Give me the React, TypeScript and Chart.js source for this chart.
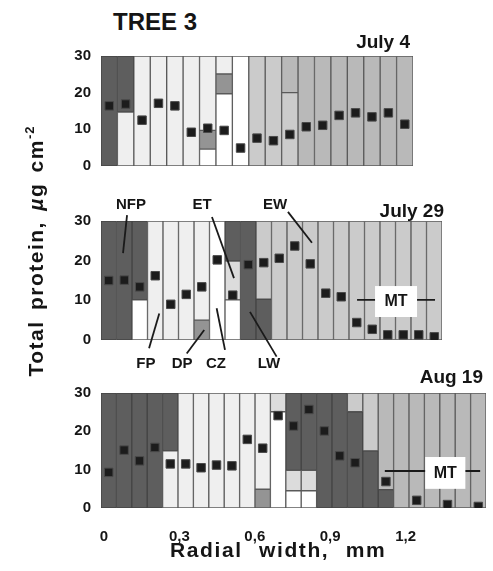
import React, { useEffect, useRef } from 'react';
import { Chart, registerables } from 'chart.js';

Chart.register(...registerables);

const FONT = '"Liberation Sans", Arial, Helvetica, sans-serif';
const INK = '#151515';

type Seg = [string, number]; // [tissue, upper boundary of the segment]

// ---------- styling of tissues ----------
const TISSUE_COLOR: Record<string, string> = {
  NFP: '#5e5e5e',
  LW: '#5e5e5e',
  FP: '#efefef',
  DP: '#949494',
  CZ: '#ffffff',
  ET: '#dcdcdc',
  EW: '#cbcbcb',
  MT: '#b9b9b9',
};
const DARK_TISSUES = ['NFP', 'LW'];

// ---------- axes ----------
const Y_MIN = 0;
const Y_MAX = 30;
const Y_STEP = 10;
const X_TICK_VALUES = [0, 0.3, 0.6, 0.9, 1.2];
const X_TICK_LABELS = ['0', '0,3', '0,6', '0,9', '1,2'];
const X_MIN_MM = -0.012;
const X_MAX_MM = 1.52;

// ---------- July 4 ----------
const JUL4_BARS: Seg[][] = [
  [['NFP', 30]],
  [['FP', 14.7], ['NFP', 30]],
  [['FP', 30]],
  [['FP', 30]],
  [['FP', 30]],
  [['FP', 30]],
  [['CZ', 4.6], ['DP', 9.7], ['FP', 30]],
  [['CZ', 19.7], ['DP', 25.1], ['FP', 30]],
  [['CZ', 30]],
  [['EW', 30]],
  [['EW', 30]],
  [['EW', 20], ['MT', 30]],
  [['MT', 30]],
  [['MT', 30]],
  [['MT', 30]],
  [['MT', 30]],
  [['MT', 30]],
  [['MT', 30]],
  [['MT', 30]],
];
const JUL4_PROTEIN = [16.4, 16.9, 12.5, 17.1, 16.4, 9.2, 10.3, 9.7, 4.9, 7.6, 6.9, 8.6, 10.7, 11.1, 13.8, 14.5, 13.4, 14.5, 11.4];

// ---------- July 29 ----------
const JUL29_BARS: Seg[][] = [
  [['NFP', 30]],
  [['NFP', 30]],
  [['CZ', 10.1], ['NFP', 30]],
  [['FP', 30]],
  [['FP', 30]],
  [['FP', 30]],
  [['DP', 5], ['FP', 30]],
  [['CZ', 30]],
  [['CZ', 10.1], ['ET', 19.9], ['LW', 30]],
  [['LW', 30]],
  [['LW', 10.3], ['EW', 30]],
  [['EW', 30]],
  [['EW', 30]],
  [['EW', 30]],
  [['EW', 30]],
  [['EW', 30]],
  [['EW', 30]],
  [['EW', 30]],
  [['EW', 30]],
  [['EW', 30]],
  [['EW', 30]],
  [['EW', 30]],
];
const JUL29_PROTEIN = [15.0, 15.1, 13.4, 16.2, 9.0, 11.5, 13.4, 20.2, 11.3, 19.0, 19.5, 20.6, 23.7, 19.2, 11.8, 10.9, 4.4, 2.7, 1.3, 1.3, 1.3, 0.8];

// ---------- Aug 19 ----------
const AUG19_BARS: Seg[][] = [
  [['NFP', 30]],
  [['NFP', 30]],
  [['NFP', 30]],
  [['NFP', 30]],
  [['FP', 14.9], ['NFP', 30]],
  [['FP', 30]],
  [['FP', 30]],
  [['FP', 30]],
  [['FP', 30]],
  [['FP', 30]],
  [['DP', 4.9], ['FP', 30]],
  [['CZ', 25.1], ['ET', 30]],
  [['CZ', 4.5], ['ET', 9.8], ['LW', 30]],
  [['CZ', 4.5], ['ET', 9.8], ['LW', 30]],
  [['LW', 30]],
  [['LW', 30]],
  [['LW', 25.1], ['EW', 30]],
  [['LW', 14.9], ['EW', 30]],
  [['LW', 4.8], ['MT', 30]],
  [['MT', 30]],
  [['MT', 30]],
  [['MT', 30]],
  [['MT', 30]],
  [['MT', 30]],
  [['MT', 30]],
];
const AUG19_PROTEIN = [9.3, 15.1, 12.3, 15.8, 11.5, 11.5, 10.5, 11.2, 11.0, 17.9, 15.6, 24.1, 21.4, 25.7, 20.1, 13.6, 11.8, null, 6.9, null, 2.0, null, 0.9, null, 0.4];

// ---------- annotations (bar index, protein value) ----------
interface Ann { text: string; at: [number, number]; line: [[number, number], [number, number]]; }
interface MtBox { line: [number, number, number]; box: [number, number, number, number]; text: [number, number]; }

const JUL29_LABELS: Ann[] = [
  { text: 'NFP', at: [1.43, 34], line: [[1.18, 31.5], [0.92, 21.9]] },
  { text: 'ET', at: [6.02, 34], line: [[6.66, 31.0], [8.08, 15.6]] },
  { text: 'EW', at: [10.73, 34], line: [[11.56, 32.3], [13.11, 24.5]] },
  { text: 'FP', at: [2.4, -6.05], line: [[3.26, 6.7], [2.6, -2.1]] },
  { text: 'DP', at: [4.73, -6.05], line: [[6.16, 2.5], [5.03, -3.4]] },
  { text: 'CZ', at: [6.92, -6.05], line: [[6.96, 8.0], [7.5, -2.5]] },
  { text: 'LW', at: [10.34, -6.05], line: [[9.11, 7.1], [10.83, -4.2]] },
];
const JUL29_MT: MtBox = { line: [16.02, 21.05, 10.1], box: [17.18, 19.89, 13.6, 5.8], text: [18.53, 9.6] };
const AUG19_MT: MtBox = { line: [17.93, 24.12, 9.65], box: [20.55, 23.16, 13.3, 5.0], text: [21.85, 9.1] };

interface PanelCfg {
  date: string;
  bars: Seg[][];
  protein: (number | null)[];
  top: number;
  height: number;
  padTop: number;
  padBottom: number;
  padRight: number;
  dateDx: number;
  dateDy: number;
  labels?: Ann[];
  mt?: MtBox;
  xAxis?: boolean;
}

const PANELS: PanelCfg[] = [
  { date: 'July 4', bars: JUL4_BARS, protein: JUL4_PROTEIN, top: 0, height: 185, padTop: 56, padBottom: 14, padRight: 80, dateDx: -3, dateDy: 8 },
  { date: 'July 29', bars: JUL29_BARS, protein: JUL29_PROTEIN, top: 185, height: 190, padTop: 36, padBottom: 35, padRight: 51, dateDx: 2, dateDy: 4, labels: JUL29_LABELS, mt: JUL29_MT },
  { date: 'Aug 19', bars: AUG19_BARS, protein: AUG19_PROTEIN, top: 355, height: 216, padTop: 38, padBottom: 0, padRight: 0, dateDx: -3, dateDy: 10, mt: AUG19_MT, xAxis: true },
];

function Panel({ cfg }: { cfg: PanelCfg }) {
  const ref = useRef<HTMLCanvasElement>(null);

  useEffect(() => {
    if (!ref.current) return;
    const bars = cfg.bars;
    const nLayers = Math.max(...bars.map((b) => b.length));
    const labels = bars.map((_, i) => String(i + 1));

    const datasets: any[] = [
      {
        type: 'line',
        label: 'Total protein',
        data: cfg.protein,
        showLine: false,
        stack: 'markers',
        order: 0,
        pointStyle: 'rect',
        pointRadius: 6,
        pointHoverRadius: 6,
        pointBackgroundColor: '#1c1c1c',
        pointBorderColor: '#4a4a4a',
        pointBorderWidth: 1,
      },
    ];
    for (let k = 0; k < nLayers; k++) {
      datasets.push({
        type: 'bar',
        label: 'layer ' + k,
        stack: 'tissue',
        order: 1,
        data: bars.map((b) => (b[k] ? b[k][1] - (k > 0 ? b[k - 1][1] : 0) : null)),
        backgroundColor: bars.map((b) => (b[k] ? TISSUE_COLOR[b[k][0]] : 'transparent')),
        borderColor: bars.map((b) => (b[k] && DARK_TISSUES.includes(b[k][0]) ? '#444444' : '#5a5a5a')),
        borderWidth: 1,
        borderSkipped: false,
        categoryPercentage: 1,
        barPercentage: 1,
      });
    }

    const overlay = {
      id: 'overlay',
      afterDatasetsDraw(chart: any) {
        const { ctx, chartArea, scales } = chart;
        const px = (i: number) => scales.x.getPixelForValue(i);
        const py = (v: number) => scales.y.getPixelForValue(v);
        ctx.save();
        ctx.fillStyle = INK;
        ctx.font = `bold 19px ${FONT}`;
        ctx.textAlign = 'right';
        ctx.textBaseline = 'alphabetic';
        ctx.fillText(cfg.date, chartArea.right + cfg.dateDx, chartArea.top - cfg.dateDy);

        ctx.strokeStyle = '#1a1a1a';
        ctx.lineWidth = 1.8;
        ctx.lineCap = 'butt';
        (cfg.labels || []).forEach((a) => {
          ctx.beginPath();
          ctx.moveTo(px(a.line[0][0]), py(a.line[0][1]));
          ctx.lineTo(px(a.line[1][0]), py(a.line[1][1]));
          ctx.stroke();
          ctx.font = `bold 15px ${FONT}`;
          ctx.textAlign = 'center';
          ctx.textBaseline = 'middle';
          ctx.fillText(a.text, px(a.at[0]), py(a.at[1]));
        });

        if (cfg.mt) {
          const m = cfg.mt;
          ctx.beginPath();
          ctx.moveTo(px(m.line[0]), py(m.line[2]));
          ctx.lineTo(px(m.line[1]), py(m.line[2]));
          ctx.stroke();
          const x0 = px(m.box[0]);
          const x1 = px(m.box[1]);
          const y0 = py(m.box[2]);
          const y1 = py(m.box[3]);
          ctx.fillStyle = '#ffffff';
          ctx.fillRect(x0, y0, x1 - x0, y1 - y0);
          ctx.fillStyle = INK;
          ctx.font = `bold 16px ${FONT}`;
          ctx.textAlign = 'center';
          ctx.textBaseline = 'middle';
          ctx.fillText('MT', px(m.text[0]), py(m.text[1]));
        }
        ctx.restore();
      },
    };

    const scales: any = {
      x: { type: 'category', stacked: true, display: false },
      y: {
        min: Y_MIN,
        max: Y_MAX,
        stacked: true,
        afterFit: (s: any) => {
          s.width = 101;
        },
        grid: { display: false, drawTicks: false },
        border: { display: false },
        ticks: { stepSize: Y_STEP, padding: 10, color: INK, font: { family: FONT, size: 15, weight: 'bold' } },
      },
    };
    if (cfg.xAxis) {
      scales.mm = {
        type: 'linear',
        axis: 'x',
        position: 'bottom',
        offset: false,
        min: X_MIN_MM,
        max: X_MAX_MM,
        afterBuildTicks: (s: any) => {
          s.ticks = X_TICK_VALUES.map((v) => ({ value: v }));
        },
        afterFit: (s: any) => {
          s.height = 63;
        },
        grid: { display: false, drawTicks: false, offset: false },
        border: { display: false },
        ticks: {
          autoSkip: false,
          maxRotation: 0,
          padding: 20,
          color: INK,
          font: { family: FONT, size: 15, weight: 'bold' },
          callback: (_v: any, i: number) => X_TICK_LABELS[i],
        },
      };
    }

    const chart = new Chart(ref.current, {
      type: 'bar',
      data: { labels, datasets },
      options: {
        animation: false,
        responsive: true,
        maintainAspectRatio: false,
        events: [],
        layout: { padding: { top: cfg.padTop, bottom: cfg.padBottom, right: cfg.padRight, left: 0 } },
        plugins: { legend: { display: false }, tooltip: { enabled: false } },
        scales,
      },
      plugins: [overlay],
    } as any);
    return () => chart.destroy();
  }, [cfg]);

  return (
    <div style={{ position: 'absolute', left: 0, top: cfg.top, width: 493, height: cfg.height }}>
      <canvas ref={ref} />
    </div>
  );
}

export default function App() {
  return (
    <div style={{ position: 'absolute', left: 0, top: 0, width: 493, height: 571, background: '#fff', overflow: 'hidden', fontFamily: FONT, color: INK }}>
      <div style={{ position: 'absolute', left: 113, top: 10, fontSize: 24, lineHeight: '24px', fontWeight: 'bold', whiteSpace: 'nowrap' }}>TREE 3</div>
      {PANELS.map((p, i) => (
        <Panel key={i} cfg={p} />
      ))}
      <div
        style={{
          position: 'absolute',
          left: 36 - 200,
          top: 251 - 12,
          width: 400,
          height: 24,
          lineHeight: '24px',
          textAlign: 'center',
          transform: 'rotate(-90deg)',
          fontSize: 21,
          fontWeight: 'bold',
          letterSpacing: '1.5px',
          wordSpacing: '3px',
          whiteSpace: 'nowrap',
        }}
      >
        Total protein, <span style={{ fontStyle: 'italic' }}>µ</span>g cm
        <span style={{ fontSize: 13, position: 'relative', top: -9, letterSpacing: '1px' }}>-2</span>
      </div>
      <div
        style={{
          position: 'absolute',
          left: 170,
          top: 540,
          fontSize: 21,
          lineHeight: '20px',
          fontWeight: 'bold',
          letterSpacing: '1.6px',
          wordSpacing: '9px',
          whiteSpace: 'nowrap',
        }}
      >
        Radial width, mm
      </div>
    </div>
  );
}
